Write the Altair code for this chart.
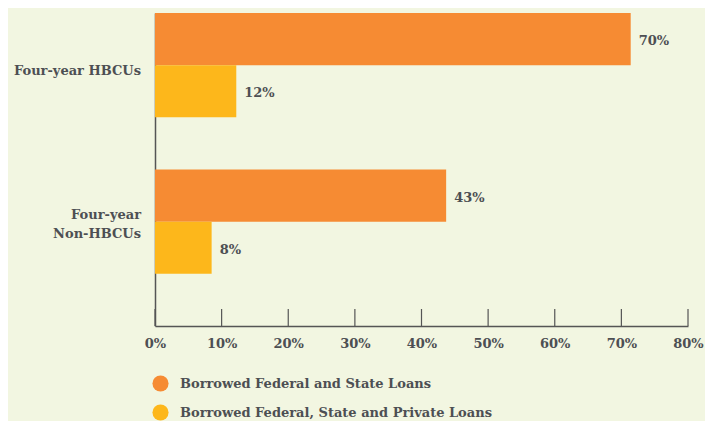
import altair as alt
import pandas as pd

categories = ["Four-year HBCUs", "Four-year Non-HBCUs"]
category_lines = [["Four-year HBCUs"], ["Four-year", "Non-HBCUs"]]
series = ["Borrowed Federal and State Loans", "Borrowed Federal, State and Private Loans"]
fed_state = [71.4, 43.7]
fed_state_private = [12.2, 8.5]
fed_state_labels = ["70%", "43%"]
fed_state_private_labels = ["12%", "8%"]
tick_values = [0, 10, 20, 30, 40, 50, 60, 70, 80]

rows = []
for i, c in enumerate(categories):
    rows.append({"cat": c, "series": series[0], "value": fed_state[i], "label": fed_state_labels[i]})
    rows.append({"cat": c, "series": series[1], "value": fed_state_private[i], "label": fed_state_private_labels[i]})
df = pd.DataFrame(rows)
ticks_df = pd.DataFrame({"t": tick_values})
cat_df = pd.DataFrame({"cat": categories, "lines": category_lines})

BG = "#f2f6e1"
TXT = "#4d4f53"
FONT = "DejaVu Serif"

y_enc = alt.Y("cat:N", sort=categories,
              scale=alt.Scale(domain=categories, paddingInner=0, paddingOuter=0),
              axis=alt.Axis(title=None, ticks=False, labels=False,
                            domainColor="#555555", domainWidth=1.5))
yoff = alt.YOffset("series:N", scale=alt.Scale(domain=series + ["_"], paddingInner=0, paddingOuter=0))
x_enc = alt.X("value:Q", scale=alt.Scale(domain=[0, 80], nice=False),
              axis=alt.Axis(title=None, values=tick_values, grid=False, ticks=False,
                            labelExpr="datum.value + '%'", labelPadding=11, labelFontSize=13,
                            labelFlush=False,
                            labelColor=TXT, labelFont=FONT, labelFontWeight="bold",
                            domainColor="#555555", domainWidth=1.5))

bars = alt.Chart(df).mark_bar().encode(
    x=x_enc, y=y_enc, yOffset=yoff,
    color=alt.Color("series:N", scale=alt.Scale(domain=series, range=["#f68b33", "#fdb71b"]),
                    legend=alt.Legend(title=None, orient="none", legendX=-3, legendY=362,
                                      symbolType="circle", symbolSize=260, symbolStrokeWidth=0,
                                      labelFontSize=13, labelColor=TXT, labelFont=FONT,
                                      labelFontWeight="bold", rowPadding=12, labelOffset=11,
                                      labelLimit=500)),
)

text = alt.Chart(df).mark_text(align="left", baseline="middle", dx=8, dy=2, fontSize=13,
                               font=FONT, fontWeight="bold", color=TXT).encode(
    x="value:Q", y=alt.Y("cat:N", sort=categories), yOffset=yoff, text="label:N")

cat_base = alt.Chart(cat_df)
cat_text1 = cat_base.transform_filter(alt.datum.cat == categories[0]).mark_text(
    align="right", baseline="middle", dy=-20, fontSize=13, font=FONT, fontWeight="bold",
    color=TXT, lineHeight=19).encode(x=alt.value(-14), y=alt.Y("cat:N", sort=categories), text="lines")
cat_text2 = cat_base.transform_filter(alt.datum.cat == categories[1]).mark_text(
    align="right", baseline="middle", dy=-33, fontSize=13, font=FONT, fontWeight="bold",
    color=TXT, lineHeight=19).encode(x=alt.value(-14), y=alt.Y("cat:N", sort=categories), text="lines")

tick_rules = alt.Chart(ticks_df).mark_rule(color="#555555", strokeWidth=1.2).encode(
    x="t:Q", y=alt.value(296), y2=alt.value(313))

chart = alt.layer(bars, text, cat_text1, cat_text2, tick_rules).properties(
    width=533, height=313, background=BG,
    autosize=alt.AutoSizeParams(type="none"),
    padding={"left": 147, "top": 5, "right": 17, "bottom": 95},
).configure_view(stroke=None)

chart.save("out.html", embed_options={"renderer": "svg", "actions": False})
